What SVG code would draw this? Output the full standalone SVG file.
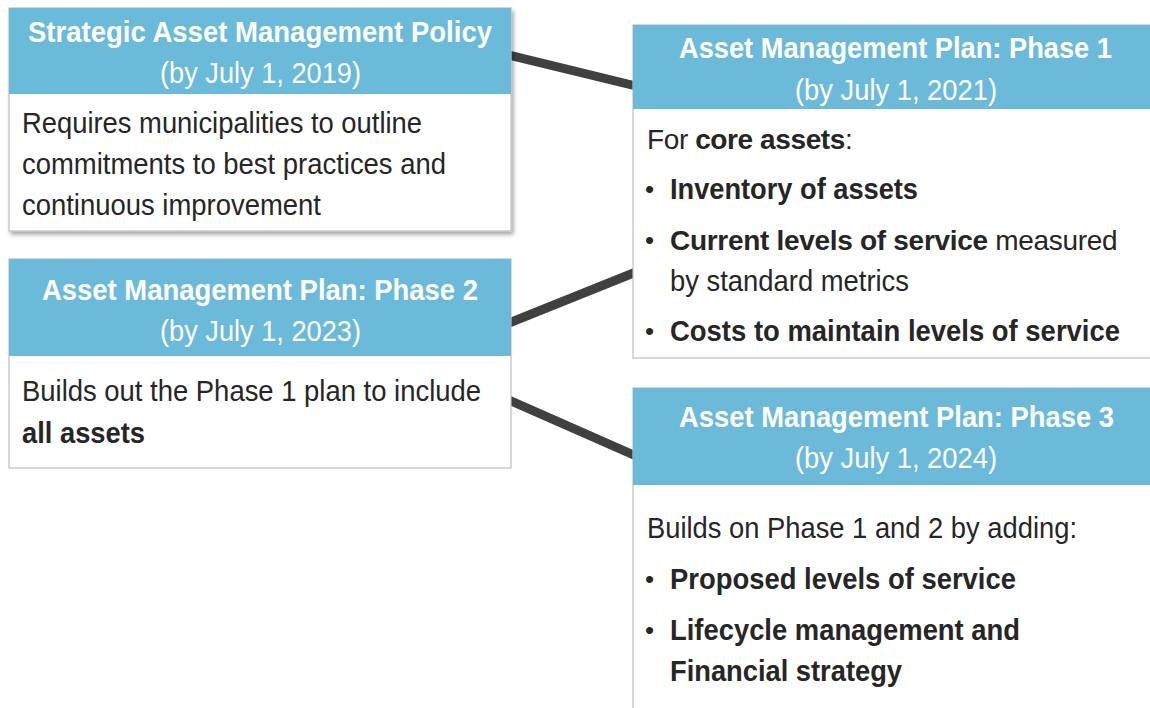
<svg xmlns="http://www.w3.org/2000/svg" width="1150" height="708" viewBox="0 0 1150 708">
<defs>
<filter id="sh" x="-5%" y="-5%" width="112%" height="115%">
<feDropShadow dx="2" dy="3" stdDeviation="2" flood-color="#000" flood-opacity="0.35"/>
</filter>
</defs>
<style>
.hdr{fill:#6bbad9}
.body{fill:#fff;stroke:#bfbfbf;stroke-width:1.2}
.t{font-family:"Liberation Sans",Arial,sans-serif;font-size:29px;font-weight:bold;fill:#fff}
.d{font-family:"Liberation Sans",Arial,sans-serif;font-size:29px;fill:#fff}
.b{font-family:"Liberation Sans",Arial,sans-serif;font-size:29px;fill:#262626}
.bb{font-family:"Liberation Sans",Arial,sans-serif;font-size:29px;font-weight:bold;fill:#262626}
.w{font-weight:bold}
.u{font-family:"Liberation Sans",Arial,sans-serif;font-size:26px;fill:#262626}
.c{stroke:#404040;stroke-width:9;fill:none}
</style>
<rect width="1150" height="708" fill="#fff"/>
<g id="connectors">
<line class="c" x1="509" y1="55" x2="636" y2="86"/>
<line class="c" x1="509" y1="323" x2="636" y2="272"/>
<line class="c" x1="509" y1="400" x2="636" y2="456"/>
</g>
<g id="policy">
<g filter="url(#sh)">
<rect class="body" x="9" y="8" width="502" height="223"/>
<rect class="hdr" x="9" y="8" width="502" height="86"/>
</g>
<text class="t" x="28" y="42" textLength="464" lengthAdjust="spacingAndGlyphs">Strategic Asset Management Policy</text>
<text class="d" x="160" y="83" textLength="201" lengthAdjust="spacingAndGlyphs">(by July 1, 2019)</text>
<text class="b" x="22" y="133" textLength="400" lengthAdjust="spacingAndGlyphs">Requires municipalities to outline</text>
<text class="b" x="22" y="174" textLength="424" lengthAdjust="spacingAndGlyphs">commitments to best practices and</text>
<text class="b" x="22" y="215" textLength="299" lengthAdjust="spacingAndGlyphs">continuous improvement</text>
</g>
<g id="phase1">
<rect class="body" x="633" y="25" width="530" height="333"/>
<rect class="hdr" x="633" y="25" width="530" height="84"/>
<text class="t" x="679" y="58" textLength="433" lengthAdjust="spacingAndGlyphs">Asset Management Plan: Phase 1</text>
<text class="d" x="795" y="100" textLength="202" lengthAdjust="spacingAndGlyphs">(by July 1, 2021)</text>
<text class="b" x="647" y="149" style="font-size:28px;letter-spacing:-0.4px">For <tspan class="w">core assets</tspan>:</text>
<text class="u" x="645" y="198">•</text>
<text class="bb" x="670" y="199" textLength="248" lengthAdjust="spacingAndGlyphs">Inventory of assets</text>
<text class="u" x="645" y="249">•</text>
<text class="b" x="670" y="250" style="font-size:28px;letter-spacing:-0.3px"><tspan class="w">Current levels of service</tspan> measured</text>
<text class="b" x="670" y="291" textLength="239" lengthAdjust="spacingAndGlyphs">by standard metrics</text>
<text class="u" x="645" y="340">•</text>
<text class="bb" x="670" y="341" textLength="450" lengthAdjust="spacingAndGlyphs">Costs to maintain levels of service</text>
</g>
<g id="phase2">
<rect class="body" x="9" y="259" width="502" height="209"/>
<rect class="hdr" x="9" y="259" width="502" height="97"/>
<text class="t" x="42" y="300" textLength="436" lengthAdjust="spacingAndGlyphs">Asset Management Plan: Phase 2</text>
<text class="d" x="160" y="341" textLength="201" lengthAdjust="spacingAndGlyphs">(by July 1, 2023)</text>
<text class="b" x="22" y="401" textLength="459" lengthAdjust="spacingAndGlyphs">Builds out the Phase 1 plan to include</text>
<text class="bb" x="22" y="443" textLength="123" lengthAdjust="spacingAndGlyphs">all assets</text>
</g>
<g id="phase3">
<rect class="body" x="633" y="388" width="530" height="340"/>
<rect class="hdr" x="633" y="388" width="530" height="97"/>
<text class="t" x="679" y="427" textLength="435" lengthAdjust="spacingAndGlyphs">Asset Management Plan: Phase 3</text>
<text class="d" x="795" y="468" textLength="202" lengthAdjust="spacingAndGlyphs">(by July 1, 2024)</text>
<text class="b" x="647" y="538" textLength="430" lengthAdjust="spacingAndGlyphs">Builds on Phase 1 and 2 by adding:</text>
<text class="u" x="645" y="588">•</text>
<text class="bb" x="670" y="589" textLength="346" lengthAdjust="spacingAndGlyphs">Proposed levels of service</text>
<text class="u" x="645" y="639">•</text>
<text class="bb" x="670" y="640" textLength="350" lengthAdjust="spacingAndGlyphs">Lifecycle management and</text>
<text class="bb" x="670" y="681" textLength="232" lengthAdjust="spacingAndGlyphs">Financial strategy</text>
</g>
</svg>
